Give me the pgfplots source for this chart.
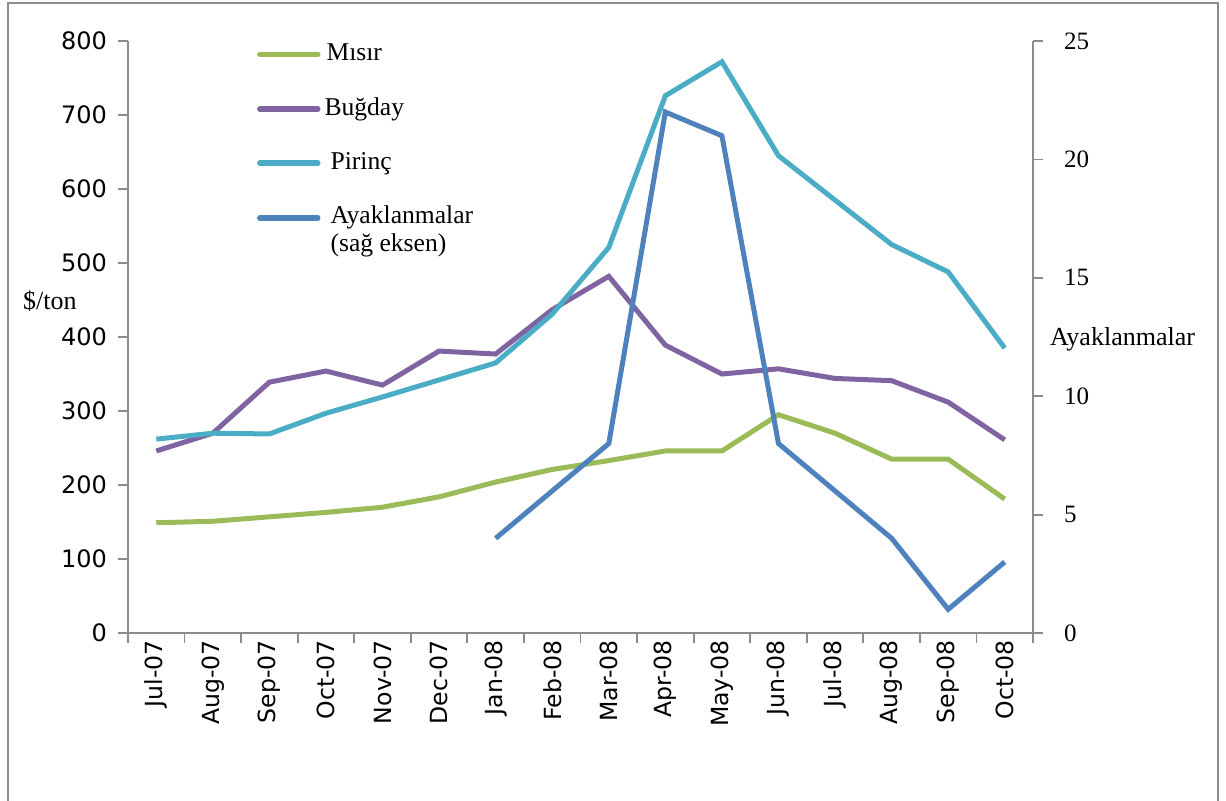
\documentclass[border=0pt]{standalone}
\usepackage{pgfplots}
\pgfplotsset{compat=1.18}
\usepackage{fontspec}
\setmainfont{Liberation Serif}
\newfontfamily\tickfont{DejaVu Sans}

\definecolor{misir}{HTML}{9BBB59}
\definecolor{bugday}{HTML}{8064A2}
\definecolor{pirinc}{HTML}{4BACC6}
\definecolor{ayak}{HTML}{4F81BD}
\definecolor{axgray}{HTML}{8C8C8C}

\begin{document}
\begin{tikzpicture}
% page: 1226x800 px, 1px = 0.5pt, axis lower-left at px (128,633)
\useasboundingbox (-64pt,-83.5pt) rectangle (549pt,316.5pt);
\draw[axgray, line width=1pt] (-60pt,-84pt) -- (-60pt,315pt) -- (545pt,315pt) -- (545pt,-84pt);

\pgfplotsset{
  base/.style={
    scale only axis, width=452.5pt, height=296pt,
    xmin=-0.5, xmax=15.5,
    axis line style={axgray, line width=0.9pt},
    tick style={axgray, line width=0.9pt},
    major tick length=5pt,
  },
}

\begin{axis}[
  base,
  ymin=0, ymax=800, ytick={0,100,...,800},
  axis y line*=left, axis x line*=bottom,
  xtick={-0.5,0.5,...,15.5}, xticklabels={},
  extra x ticks={0,...,15},
  extra x tick style={major tick length=0pt,
    tick label style={rotate=90, anchor=east, font=\tickfont\fontsize{11.8}{13}\selectfont}},
  extra x tick labels={Jul-07,Aug-07,Sep-07,Oct-07,Nov-07,Dec-07,Jan-08,Feb-08,Mar-08,Apr-08,May-08,Jun-08,Jul-08,Aug-08,Sep-08,Oct-08},
  tick align=outside,
  yticklabel style={font=\tickfont\fontsize{12}{14}\selectfont, /pgf/number format/assume math mode=true, xshift=-2pt},
  ylabel={\$/ton}, ylabel style={rotate=-90, font=\fontsize{13}{15}\selectfont, at={(rel axis cs:0,0.56)}, anchor=west, xshift=-56pt},
  legend style={draw=none, fill=none, at={(rel axis cs:0.1356,1.003)}, anchor=north west,
    font=\fontsize{12.8}{14}\selectfont, row sep=17pt,
    nodes={align=left, anchor=base west, inner sep=0pt}},
  legend cell align=left,
  legend image code/.code={\draw[#1, line width=2.7pt, line cap=round] (0pt,3pt) -- (29pt,3pt);},
]
\addplot[misir, line width=2.5pt] coordinates {
(0,149)(1,151)(2,157)(3,163)(4,170)(5,184)(6,204)(7,221)(8,233)(9,246)(10,246)(11,295)(12,270)(13,235)(14,235)(15,181)};
\addlegendentry{\hspace{3pt}Mısır}
\addplot[bugday, line width=2.5pt] coordinates {
(0,246)(1,270)(2,339)(3,354)(4,335)(5,381)(6,377)(7,437)(8,482)(9,389)(10,350)(11,357)(12,344)(13,341)(14,312)(15,261)};
\addlegendentry{\hspace{2pt}Buğday}
\addplot[pirinc, line width=2.5pt] coordinates {
(0,262)(1,270)(2,269)(3,297)(4,319)(5,342)(6,365)(7,431)(8,521)(9,726)(10,772)(11,645)(12,585)(13,525)(14,488)(15,385)};
\addlegendentry{\hspace{5pt}Pirinç}
\addlegendimage{legend image code/.code={\draw[ayak, line width=2.7pt, line cap=round] (0pt,17pt) -- (29pt,17pt);}}
\addlegendentry{\hspace{5pt}Ayaklanmalar\\\hspace{5pt}(sağ eksen)}
\end{axis}

\begin{axis}[
  base,
  ymin=0, ymax=25, ytick={0,5,...,25},
  axis y line*=right, axis x line=none,
  tick align=outside,
  yticklabel style={font=\fontsize{12.5}{14}\selectfont, /pgf/number format/assume math mode=true, xshift=7pt},
  ylabel={Ayaklanmalar}, ylabel style={rotate=-90, font=\fontsize{13}{15}\selectfont, at={(rel axis cs:1,0.5)}, anchor=west, xshift=5pt, yshift=-1pt},
]
\addplot[ayak, line width=2.5pt] coordinates {
(6,4)(7,6)(8,8)(9,22)(10,21)(11,8)(12,6)(13,4)(14,1)(15,3)};
\end{axis}
\end{tikzpicture}
\end{document}
